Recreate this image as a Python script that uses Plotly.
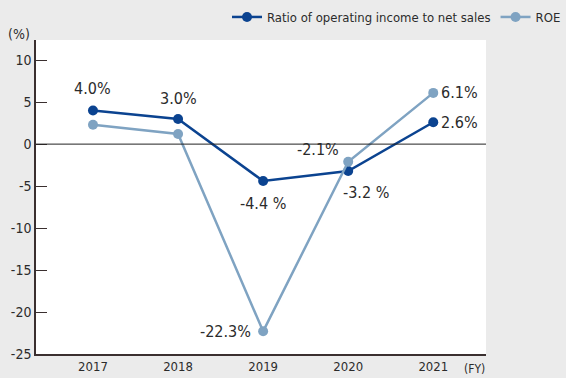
import plotly.graph_objects as go

years = [2017, 2018, 2019, 2020, 2021]
op_ratio = [4.0, 3.0, -4.4, -3.2, 2.6]
roe = [2.3, 1.2, -22.3, -2.1, 6.1]

op_labels = ["4.0%", "3.0%", "-4.4 %", "-3.2 %", "2.6%"]
roe_labels = ["", "", "-22.3%", "-2.1%", "6.1%"]

y_ticks = [10, 5, 0, -5, -10, -15, -20, -25]

NAVY = "#0b4390"
LIGHT = "#7fa3c2"
TEXT = "#2b2b2b"
FONT = "DejaVu Sans Condensed, Liberation Sans Narrow, Roboto, sans-serif"

fig = go.Figure()
fig.add_trace(go.Scatter(
    x=years, y=op_ratio, mode="lines+markers",
    name="Ratio of operating income to net sales",
    line=dict(color=NAVY, width=2.5),
    marker=dict(color=NAVY, size=10),
))
fig.add_trace(go.Scatter(
    x=years, y=roe, mode="lines+markers", name="ROE",
    line=dict(color=LIGHT, width=2.5),
    marker=dict(color=LIGHT, size=10),
))

# Value labels: (x-shift, y-shift) per point in pixels
op_shift = [(0, 22), (0, 20), (0, -22), (18, -22), (26, 0)]
roe_shift = [(0, 0), (0, 0), (-38, 0), (-30, 12), (26, 0)]
for x, y, t, (dx, dy) in zip(years, op_ratio, op_labels, op_shift):
    fig.add_annotation(x=x, y=y, text=t, showarrow=False, xshift=dx, yshift=dy,
                       font=dict(size=16, color=TEXT, family=FONT))
for x, y, t, (dx, dy) in zip(years, roe, roe_labels, roe_shift):
    if t:
        fig.add_annotation(x=x, y=y, text=t, showarrow=False, xshift=dx, yshift=dy,
                           font=dict(size=16, color=TEXT, family=FONT))

fig.add_annotation(xref="paper", yref="paper", x=0, y=1, xanchor="right", yanchor="bottom",
                   xshift=-4, yshift=-4, text="(%)", showarrow=False,
                   font=dict(size=14, color=TEXT, family=FONT))
fig.add_annotation(xref="paper", yref="paper", x=1, y=0, xanchor="left", yanchor="top",
                   xshift=-24, yshift=-6, text="(FY)", showarrow=False,
                   font=dict(size=12, color=TEXT, family=FONT))

fig.add_shape(type="line", xref="paper", yref="y", x0=0, x1=1, y0=0, y1=0,
              line=dict(color="#222222", width=1))

fig.update_xaxes(
    range=[2016.33, 2021.62], tickvals=years, ticktext=[str(y) for y in years],
    showgrid=False, zeroline=False, showline=True, linecolor="#3a2f2f", linewidth=1.5,
    ticks="", ticklen=0, automargin=False,
    tickfont=dict(size=13, color=TEXT, family=FONT),
)
fig.update_yaxes(
    range=[-25, 12.4], tickvals=y_ticks, ticktext=[str(v) for v in y_ticks],
    showgrid=False, zeroline=False, showline=True, linecolor="#3a2f2f", linewidth=1.5,
    ticks="inside", ticklen=11, tickcolor="#3a2f2f", tickwidth=1, automargin=False,
    tickfont=dict(size=14, color=TEXT, family=FONT),
)

fig.update_layout(
    width=566, height=378,
    margin=dict(l=36, r=80, t=40, b=24, autoexpand=False),
    paper_bgcolor="#ebebeb", plot_bgcolor="#ffffff",
    font=dict(family=FONT, color=TEXT),
    showlegend=True,
    legend=dict(orientation="h", xref="container", yref="container",
                x=1.0, xanchor="right", y=0.955, yanchor="middle",
                bgcolor="rgba(0,0,0,0)", font=dict(size=13, color=TEXT, family=FONT),
                itemwidth=30, tracegroupgap=0),
)

fig.write_html("out.html")
